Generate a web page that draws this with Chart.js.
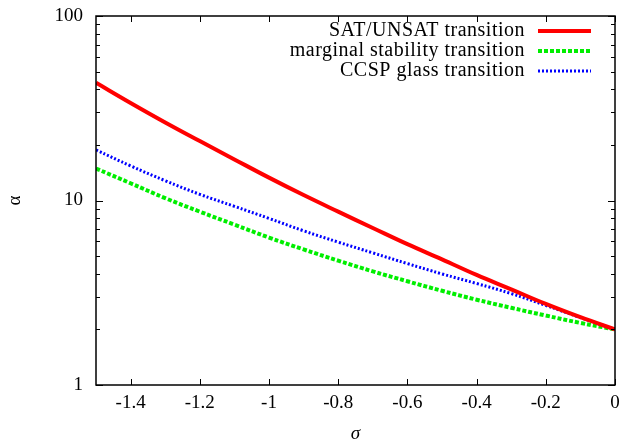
<!DOCTYPE html>
<html>
<head>
<meta charset="utf-8">
<script src="https://cdn.jsdelivr.net/npm/chart.js@4/dist/chart.umd.min.js"></script>
<style>
  html, body { margin: 0; padding: 0; background: #fff; }
  #wrap { width: 624px; height: 445px; }
</style>
</head>
<body>
<div id="wrap"><canvas id="chart"></canvas></div>
<script>
// values
const sigma    = [-1.5, -1.4, -1.3, -1.2, -1.1, -1.0, -0.9, -0.8, -0.7, -0.6, -0.5, -0.4, -0.3, -0.2, -0.1, 0];
const satUnsat = [43.5, 33.8, 26.5, 21.0, 16.7, 13.3, 10.7, 8.7, 7.1, 5.8, 4.8, 3.95, 3.3, 2.75, 2.33, 2.0];
const marginal = [14.9, 12.4, 10.3, 8.7, 7.4, 6.3, 5.43, 4.72, 4.13, 3.65, 3.24, 2.9, 2.62, 2.38, 2.17, 2.0];
const glass    = [18.8, 15.4, 12.8, 10.8, 9.3, 8.0, 6.85, 5.95, 5.2, 4.55, 4.0, 3.55, 3.13, 2.7, 2.32, 2.0];
const seriesNames = ['SAT/UNSAT transition', 'marginal stability transition', 'CCSP glass transition'];
const xTicks = [-1.4, -1.2, -1.0, -0.8, -0.6, -0.4, -0.2, 0];
const yTicks = [1, 2, 3, 4, 5, 6, 7, 8, 9, 10, 20, 30, 40, 50, 60, 70, 80, 90, 100];
const yLabels = [1, 10, 100];

const FONT = '"Liberation Serif", "DejaVu Serif", serif';

function points(ys) {
  return sigma.map((s, i) => ({ x: s, y: ys[i] }));
}

// frame with gnuplot-style inward ticks on all four sides
const framePlugin = {
  id: 'frame',
  afterDatasetsDraw(chart) {
    const { ctx, chartArea: a, scales } = chart;
    ctx.save();
    ctx.strokeStyle = '#000';
    ctx.lineWidth = 1.5;
    ctx.strokeRect(a.left, a.top, a.right - a.left, a.bottom - a.top);
    ctx.lineWidth = 1;
    ctx.beginPath();
    xTicks.forEach(v => {
      const px = Math.round(scales.x.getPixelForValue(v)) + 0.5;
      ctx.moveTo(px, a.bottom); ctx.lineTo(px, a.bottom - 6);
      ctx.moveTo(px, a.top); ctx.lineTo(px, a.top + 6);
    });
    yTicks.forEach(v => {
      const py = Math.round(scales.y.getPixelForValue(v)) + 0.5;
      const len = yLabels.includes(v) ? 7 : 4;
      ctx.moveTo(a.left, py); ctx.lineTo(a.left + len, py);
      ctx.moveTo(a.right, py); ctx.lineTo(a.right - len, py);
    });
    ctx.stroke();
    ctx.restore();
  }
};

// legend in the top right corner: text right aligned, line sample after it
const keyPlugin = {
  id: 'key',
  afterDraw(chart) {
    const { ctx, chartArea: a } = chart;
    const textRight = a.right - 90;
    const lineX0 = a.right - 77, lineX1 = a.right - 24;
    ctx.save();
    ctx.font = '20px ' + FONT;
    ctx.letterSpacing = '0.5px';
    ctx.textAlign = 'right';
    ctx.textBaseline = 'middle';
    chart.data.datasets.forEach((ds, i) => {
      const y = a.top + 15 + i * 20;
      ctx.fillStyle = '#000';
      ctx.fillText(ds.label, textRight, y);
      ctx.strokeStyle = ds.borderColor;
      ctx.lineWidth = ds.borderWidth;
      ctx.setLineDash(ds.borderDash || []);
      ctx.beginPath();
      ctx.moveTo(lineX0, y);
      ctx.lineTo(lineX1, y);
      ctx.stroke();
    });
    ctx.restore();
  }
};

new Chart(document.getElementById('chart'), {
  type: 'line',
  data: {
    datasets: [
      { label: seriesNames[0], data: points(satUnsat), borderColor: '#ff0000', borderWidth: 4, pointRadius: 0, tension: 0.4 },
      { label: seriesNames[1], data: points(marginal), borderColor: '#00ee00', borderWidth: 4, borderDash: [4, 2], pointRadius: 0, tension: 0.4 },
      { label: seriesNames[2], data: points(glass), borderColor: '#0000ff', borderWidth: 3, borderDash: [2, 2], pointRadius: 0, tension: 0.4 }
    ]
  },
  options: {
    responsive: true,
    maintainAspectRatio: false,
    animation: false,
    layout: { padding: { top: 16, right: 9, left: 0, bottom: 0 } },
    plugins: { legend: { display: false }, tooltip: { enabled: false } },
    scales: {
      x: {
        type: 'linear',
        min: -1.5,
        max: 0,
        grid: { display: false, drawTicks: false, tickLength: 0 },
        border: { display: false },
        afterBuildTicks: s => { s.ticks = xTicks.map(v => ({ value: v })); },
        afterFit: s => { s.height = 60; s.paddingLeft = 0; s.paddingRight = 0; },
        ticks: {
          padding: 7,
          maxRotation: 0,
          color: '#000',
          font: { family: FONT, size: 19 },
          callback: v => String(v)
        },
        title: {
          display: true,
          text: 'σ',
          color: '#000',
          padding: { top: 4, bottom: 0 },
          font: { family: FONT, size: 19, style: 'italic' }
        }
      },
      y: {
        type: 'logarithmic',
        min: 1,
        max: 100,
        grid: { display: false, drawTicks: false, tickLength: 0 },
        border: { display: false },
        afterBuildTicks: s => { s.ticks = yTicks.map(v => ({ value: v })); },
        afterFit: s => { s.width = 96; s.paddingTop = 0; s.paddingBottom = 0; },
        ticks: {
          padding: 13,
          autoSkip: false,
          color: '#000',
          font: { family: FONT, size: 19 },
          callback: v => yLabels.includes(v) ? String(v) : ''
        },
        title: {
          display: true,
          text: 'α',
          color: '#000',
          padding: { top: 4, bottom: 0 },
          font: { family: FONT, size: 19 }
        }
      }
    }
  },
  plugins: [framePlugin, keyPlugin]
});
</script>
</body>
</html>
